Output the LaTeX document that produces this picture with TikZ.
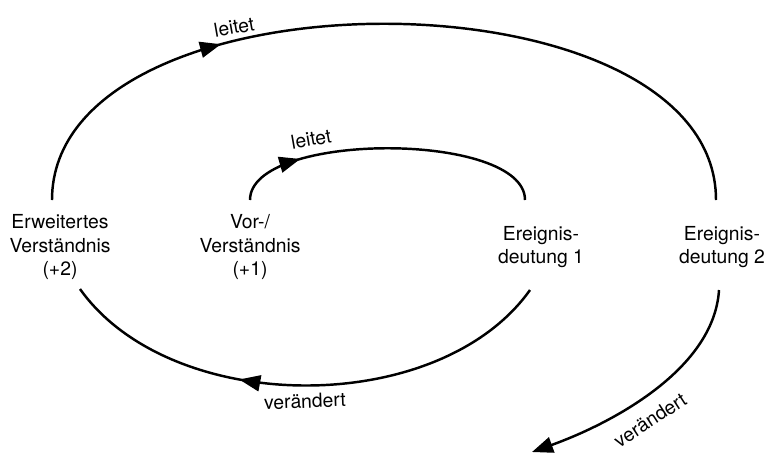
\documentclass[tikz,border=0pt]{standalone}
\usepackage{fontspec}
\setmainfont{TeX Gyre Heros}
\usetikzlibrary{calc,arrows.meta,decorations.markings}
\tikzset{
  txt/.style={align=center,font=\fontsize{11}{13.3}\selectfont,inner sep=0pt},
  bahn/.style={line width=1.4pt},
  spitze/.style={postaction={decorate},decoration={markings,
      mark=at position #1 with {\arrow{Triangle[length=0.42cm,width=0.32cm]}}}}
}

\begin{document}
\begin{tikzpicture}[x=0.02cm,y=-0.02cm]
  \useasboundingbox (0,0) rectangle (770,454);
  % Stationen der Spirale
  \node[txt] (erw) at (60,247) {Erweitertes\\Verständnis\\(+2)};
  \node[txt] (vor) at (250,247) {Vor-/\\Verständnis\\(+1)};
  \node[txt] (ed1) at (541,247) {Ereignis-\\deutung 1};
  \node[txt] (ed2) at (722,247) {Ereignis-\\deutung 2};
  \coordinate (ende) at (532,452);
  % Bahnen
  \draw[bahn,spitze=0.22] ($(vor)+(0,-47)$) .. controls +(0,-69) and +(0,-69) .. ($(ed1)+(-16,-47)$);
  \draw[bahn,spitze=0.63] ($(ed1)+(-11,43)$) .. controls +(-91,128) and +(91,128) .. ($(erw)+(20,42)$);
  \draw[bahn,spitze=0.3] ($(erw)+(-8,-47)$) .. controls +(0,-235) and +(0,-235) .. ($(ed2)+(-6,-47)$);
  \draw[bahn,-{Triangle[length=0.42cm,width=0.32cm]}] ($(ed2)+(-3,43)$) .. controls +(-5,80) and +(78,-28) .. (ende);
  % Beschriftungen
  \node[txt,rotate=10] (l1) at (234,27) {leitet};
  \node[txt,rotate=10] (l2) at (311,139) {leitet};
  \node[txt,rotate=2] (l3) at (305,401) {verändert};
  \node[txt,rotate=33] (l4) at (650,420) {verändert};
\end{tikzpicture}
\end{document}
